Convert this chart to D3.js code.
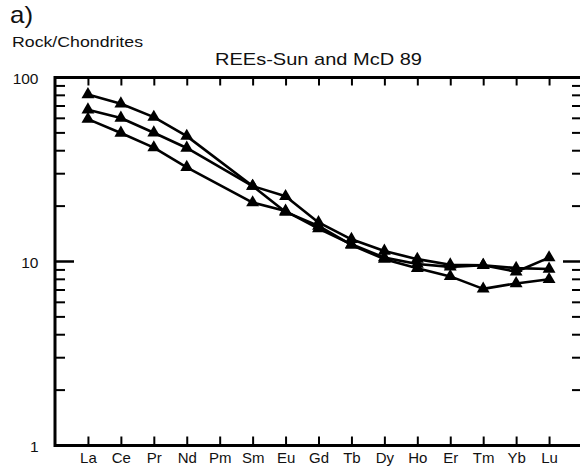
<!DOCTYPE html>
<html><head><meta charset="utf-8">
<script src="https://cdn.jsdelivr.net/npm/d3@7"></script>
<style>
html,body{margin:0;padding:0;background:#fff;}
svg{display:block;font-family:"Liberation Sans",Arial,sans-serif;}
</style></head>
<body><svg id="c" width="580" height="472"></svg>
<script>
const elements = ["La","Ce","Pr","Nd","Pm","Sm","Eu","Gd","Tb","Dy","Ho","Er","Tm","Yb","Lu"];
// null = no data (Pm)
const sample1 = [80.9, 72.0, 60.9, 48.0, null, 25.7, 18.6, 15.6, 12.3, 10.3, 9.2, 8.3, 7.1, 7.6, 8.0];
const sample2 = [66.8, 60.2, 50.1, 41.4, null, 25.7, 22.6, 16.3, 13.2, 11.4, 10.3, 9.6, 9.55, 8.8, 10.5];
const sample3 = [59.4, 49.9, 41.6, 32.5, null, 20.9, 18.8, 15.1, 12.4, 10.5, 9.7, 9.35, 9.55, 9.2, 9.1];
const yTicksMajor = [1, 10, 100];
const yTickLabels = ["1", "10", "100"];
const yTicksMinor = [2,3,4,5,6,7,8,9,20,30,40,50,60,70,80,90];
const title = "REEs-Sun and McD 89";
const yTitle = "Rock/Chondrites";
const panel = "a)";

const svg = d3.select("#c");
const L = 55, R = 582, T = 77.5, B = 445.5;
const x = d3.scalePoint().domain(elements).range([L, R]).padding(1);
const y = d3.scaleLog().domain([1, 100]).range([B, T]);

// frame
svg.append("rect").attr("x", L).attr("y", T).attr("width", R - L).attr("height", B - T)
  .attr("fill", "none").attr("stroke", "#000").attr("stroke-width", 3);

// bottom & top ticks
const bottomAxis = d3.axisBottom(x).tickSize(-9).tickPadding(7);
const gB = svg.append("g").attr("transform", `translate(0,${B})`).call(bottomAxis);
gB.select(".domain").remove();
gB.selectAll(".tick line").attr("stroke-width", 2);
gB.selectAll(".tick text").attr("font-size", 15).attr("fill", "#111")
  .attr("font-family", "Liberation Sans, Arial, sans-serif");

const topAxis = d3.axisTop(x).tickSize(-8).tickFormat("");
const gT = svg.append("g").attr("transform", `translate(0,${T})`).call(topAxis);
gT.select(".domain").remove();
gT.selectAll(".tick line").attr("stroke-width", 2);

// left / right ticks
function yTicks(side) {
  const sign = side === "left" ? 1 : -1;
  const x0 = side === "left" ? L : R;
  const g = svg.append("g");
  g.selectAll("line.mi").data(yTicksMinor).enter().append("line")
    .attr("x1", x0).attr("x2", x0 + sign * 10)
    .attr("y1", d => y(d)).attr("y2", d => y(d))
    .attr("stroke", "#000").attr("stroke-width", 2);
  g.selectAll("line.ma").data([10]).enter().append("line")
    .attr("x1", x0).attr("x2", x0 + sign * 19)
    .attr("y1", d => y(d)).attr("y2", d => y(d))
    .attr("stroke", "#000").attr("stroke-width", 2.5);
}
yTicks("left");
yTicks("right");

svg.append("g").selectAll("text").data(yTicksMajor).enter().append("text")
  .attr("x", 38.5).attr("y", d => y(d) + 0.7).attr("dy", "0.36em")
  .attr("text-anchor", "end").attr("font-size", 15.5).attr("fill", "#111")
  .text((d, i) => yTickLabels[i]);

// titles
svg.append("text").attr("x", 215).attr("y", 65)
  .attr("font-size", 17).attr("fill", "#111")
  .attr("textLength", 207).attr("lengthAdjust", "spacingAndGlyphs").text(title);
svg.append("text").attr("x", 12).attr("y", 46.7).attr("font-size", 15).attr("fill", "#111")
  .attr("textLength", 131).attr("lengthAdjust", "spacingAndGlyphs").text(yTitle);
svg.append("text").attr("x", 10).attr("y", 23.3).attr("font-size", 24).attr("fill", "#111")
  .attr("textLength", 23).attr("lengthAdjust", "spacingAndGlyphs").text(panel);

// series
const series = [sample1, sample2, sample3];
const line = d3.line()
  .defined(d => d.v != null)
  .x(d => x(d.e)).y(d => y(d.v));
const pts = series.map(s => elements.map((e, i) => ({e, v: s[i]})).filter(d => d.v != null));
const gL = svg.append("g");
pts.forEach(p => {
  gL.append("path").datum(p).attr("d", line).attr("fill", "none")
    .attr("stroke", "#000").attr("stroke-width", 2.6).attr("stroke-linejoin", "round");
});
const tri = d3.symbol().type(d3.symbolTriangle).size(72);
pts.forEach(p => {
  gL.selectAll(null).data(p).enter().append("path")
    .attr("d", tri).attr("transform", d => `translate(${x(d.e)},${y(d.v)})`)
    .attr("fill", "#000");
});
</script></body></html>
